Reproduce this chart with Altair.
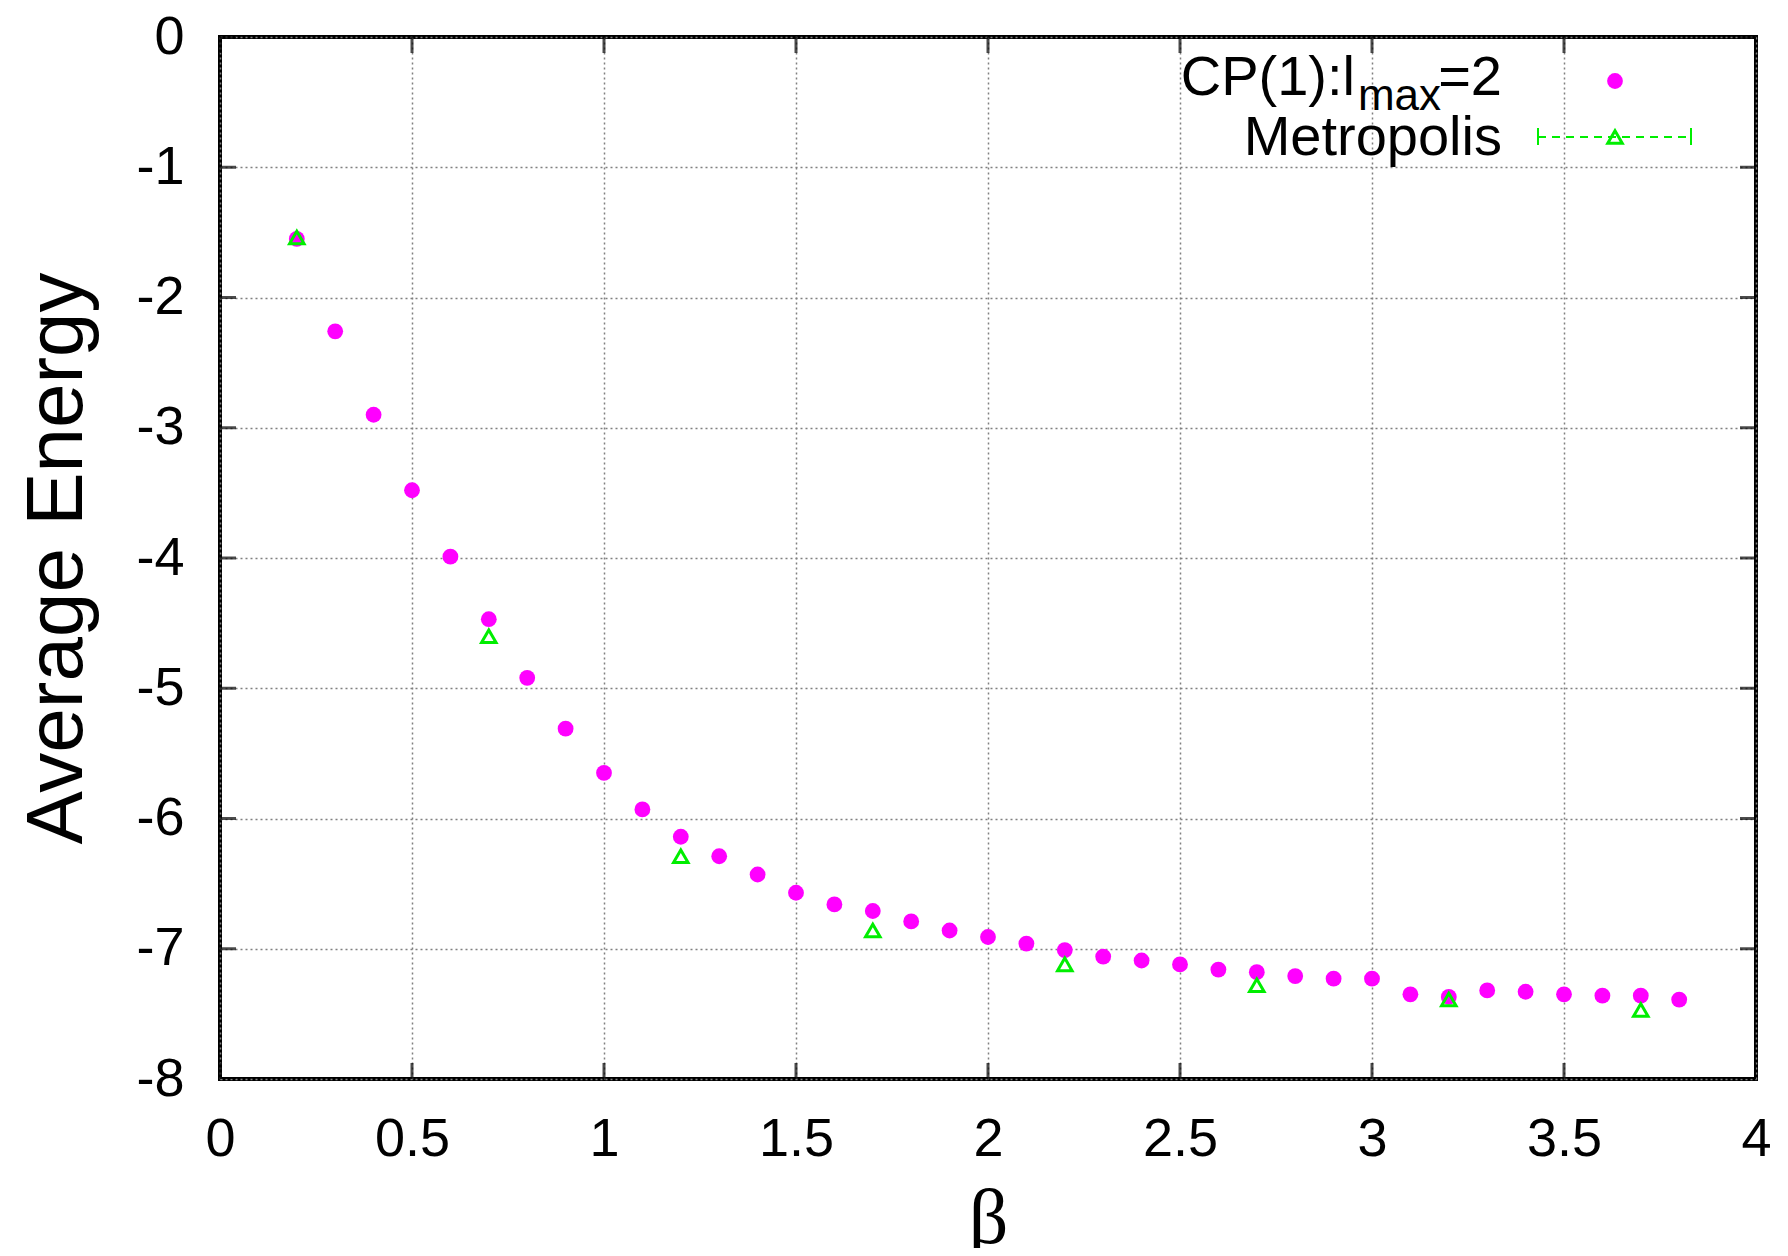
import altair as alt
import pandas as pd

# ---- data ----
beta_cp = [0.2, 0.3, 0.4, 0.5, 0.6, 0.7, 0.8, 0.9, 1.0, 1.1, 1.2, 1.3, 1.4,
           1.5, 1.6, 1.7, 1.8, 1.9, 2.0, 2.1, 2.2, 2.3, 2.4, 2.5, 2.6, 2.7,
           2.8, 2.9, 3.0, 3.1, 3.2, 3.3, 3.4, 3.5, 3.6, 3.7, 3.8]
energy_cp = [-1.55, -2.26, -2.90, -3.48, -3.99, -4.47, -4.92, -5.31, -5.65,
             -5.93, -6.14, -6.29, -6.43, -6.57, -6.66, -6.71, -6.79, -6.86,
             -6.91, -6.96, -7.01, -7.06, -7.09, -7.12, -7.16, -7.18, -7.21,
             -7.23, -7.23, -7.35, -7.37, -7.32, -7.33, -7.35, -7.36, -7.36,
             -7.39]

beta_metro = [0.2, 0.7, 1.2, 1.7, 2.2, 2.7, 3.2, 3.7]
energy_metro = [-1.54, -4.60, -6.29, -6.86, -7.12, -7.28, -7.39, -7.47]

x_ticks = [0, 0.5, 1, 1.5, 2, 2.5, 3, 3.5, 4]
y_ticks = [0, -1, -2, -3, -4, -5, -6, -7, -8]

legend_cp_parts = ["CP(1):l", "max", "=2"]
legend_metro = ["Metropolis"]

MAGENTA = "#ff00ff"
GREEN = "#00ee00"
FONT = "Liberation Sans"

df_cp = pd.DataFrame({"beta": beta_cp, "energy": energy_cp})
df_metro = pd.DataFrame({"beta": beta_metro, "energy": energy_metro})
df_xt = pd.DataFrame({"v": x_ticks})
df_yt = pd.DataFrame({"v": y_ticks})

xs = alt.Scale(domain=[0, 4], nice=False, zero=False)
ys = alt.Scale(domain=[-8, 0], nice=False, zero=False)

x_axis = alt.Axis(values=x_ticks, grid=True, gridColor="#808080", gridDash=[2, 3],
                  gridWidth=1.5, domain=False, ticks=False, tickSize=0,
                  labelFontSize=54, labelFont=FONT, labelColor="black",
                  labelPadding=33, labelExpr="'' + datum.value", labelFlush=False,
                  labelOverlap=False, title="β", titleFont="Liberation Serif",
                  titleFontSize=78, titleFontWeight="normal", titleColor="black",
                  titlePadding=14)
y_axis = alt.Axis(values=y_ticks, grid=True, gridColor="#808080", gridDash=[2, 3],
                  gridWidth=1.5, domain=False, ticks=False, tickSize=0,
                  labelFontSize=54, labelFont=FONT, labelColor="black",
                  labelPadding=36, labelExpr="'' + datum.value", labelFlush=False,
                  labelOverlap=False, title="Average Energy", titleFont=FONT,
                  titleFontSize=80, titleFontWeight="normal", titleColor="black",
                  titlePadding=37)

cp = alt.Chart(df_cp).mark_circle(size=250, color=MAGENTA, opacity=1).encode(
    x=alt.X("beta:Q", scale=xs, axis=x_axis),
    y=alt.Y("energy:Q", scale=ys, axis=y_axis),
)

metro = alt.Chart(df_metro).mark_point(shape="triangle-up", size=210, filled=False,
                                       color=GREEN, strokeWidth=3, opacity=1).encode(
    x=alt.X("beta:Q", scale=xs),
    y=alt.Y("energy:Q", scale=ys),
)

# inward ticks on all four sides (half clipped by the plot area)
tick_bottom = alt.Chart(df_xt).mark_tick(orient="vertical", size=32, thickness=3,
                                         color="black", clip=True).encode(
    x=alt.X("v:Q", scale=xs), y=alt.datum(-8, scale=ys))
tick_top = alt.Chart(df_xt).mark_tick(orient="vertical", size=32, thickness=3,
                                      color="black", clip=True).encode(
    x=alt.X("v:Q", scale=xs), y=alt.datum(0, scale=ys))
tick_left = alt.Chart(df_yt).mark_tick(orient="horizontal", size=32, thickness=3,
                                       color="black", clip=True).encode(
    y=alt.Y("v:Q", scale=ys), x=alt.datum(0, scale=xs))
tick_right = alt.Chart(df_yt).mark_tick(orient="horizontal", size=32, thickness=3,
                                        color="black", clip=True).encode(
    y=alt.Y("v:Q", scale=ys), x=alt.datum(4, scale=xs))

# ---- key (top right) ----
df_l1 = pd.DataFrame({"t": [legend_cp_parts[0]]})
df_l2 = pd.DataFrame({"t": [legend_cp_parts[1]]})
df_l3 = pd.DataFrame({"t": [legend_cp_parts[2]]})
df_l4 = pd.DataFrame({"t": legend_metro})

txt1 = alt.Chart(df_l1).mark_text(font=FONT, fontSize=56, align="right",
                                  baseline="alphabetic", color="black").encode(
    text="t:N", x=alt.value(1135), y=alt.value(58))
txt2 = alt.Chart(df_l2).mark_text(font=FONT, fontSize=44, align="right",
                                  baseline="alphabetic", color="black").encode(
    text="t:N", x=alt.value(1221), y=alt.value(73))
txt3 = alt.Chart(df_l3).mark_text(font=FONT, fontSize=56, align="right",
                                  baseline="alphabetic", color="black").encode(
    text="t:N", x=alt.value(1282), y=alt.value(58))
txt4 = alt.Chart(df_l4).mark_text(font=FONT, fontSize=56, align="right",
                                  baseline="alphabetic", color="black").encode(
    text="t:N", x=alt.value(1282), y=alt.value(118))

key_dot = alt.Chart(df_l1).mark_circle(size=250, color=MAGENTA, opacity=1).encode(
    x=alt.value(1395), y=alt.value(44))
key_line = alt.Chart(df_l4).mark_rule(color=GREEN, strokeWidth=2, strokeDash=[8, 6]).encode(
    x=alt.value(1318), x2=alt.value(1471), y=alt.value(100))
key_cap1 = alt.Chart(df_l4).mark_rule(color=GREEN, strokeWidth=2).encode(
    x=alt.value(1318), y=alt.value(91), y2=alt.value(108))
key_cap2 = alt.Chart(df_l4).mark_rule(color=GREEN, strokeWidth=2).encode(
    x=alt.value(1471), y=alt.value(91), y2=alt.value(108))
key_tri = alt.Chart(df_l4).mark_point(shape="triangle-up", size=210, filled=False,
                                      color=GREEN, strokeWidth=3, opacity=1).encode(
    x=alt.value(1395), y=alt.value(100))

chart = alt.layer(
    cp, metro, tick_bottom, tick_top, tick_left, tick_right,
    txt1, txt2, txt3, txt4, key_line, key_cap1, key_cap2, key_tri, key_dot,
).properties(
    width=1536, height=1042,
    autosize=alt.AutoSizeParams(type="none"),
    padding={"left": 212, "top": 29, "right": 20, "bottom": 169},
    background="white",
).configure_view(stroke="black", strokeWidth=4)

chart.save("out.html", embed_options={"renderer": "svg", "actions": False})
